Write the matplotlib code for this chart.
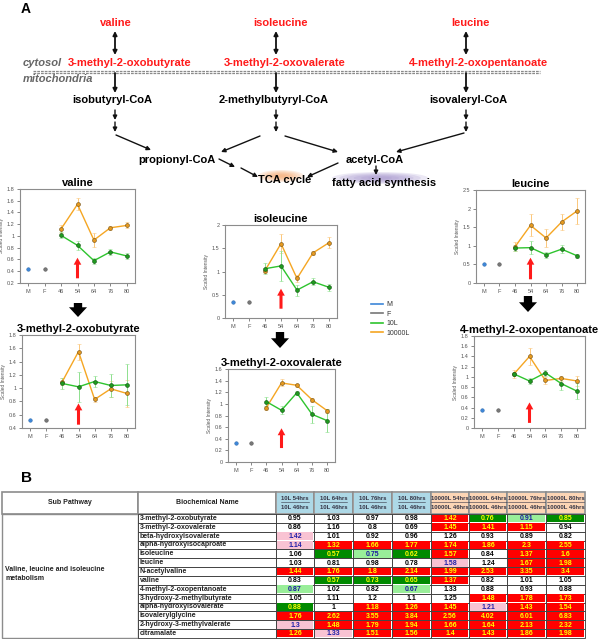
import numpy as np
import matplotlib.pyplot as plt
from matplotlib.patches import Rectangle, Ellipse
from matplotlib.lines import Line2D

plt.rcParams['font.family'] = ['Liberation Sans', 'DejaVu Sans']

W, H = 600, 639

# ---- panel A: scaled intensity, controls M/F then 10L / 10000L at 46..80 hrs
x_labels = ['M', 'F', '46', '54', '64', '76', '80']
groups = ['M', 'F', '10L', '10000L']

valine_mf = [0.44, 0.44]
valine_10L = [1.01, 0.84, 0.58, 0.73, 0.66]
valine_10L_err = [0.05, 0.08, 0.05, 0.05, 0.05]
valine_10000L = [1.12, 1.54, 0.93, 1.14, 1.18]
valine_10000L_err = [0.07, 0.10, 0.12, 0.03, 0.05]

isoleucine_mf = [0.35, 0.35]
isoleucine_10L = [1.06, 1.12, 0.60, 0.78, 0.66]
isoleucine_10L_err = [0.12, 0.32, 0.12, 0.08, 0.08]
isoleucine_10000L = [1.02, 1.60, 0.85, 1.40, 1.62]
isoleucine_10000L_err = [0.05, 0.20, 0.08, 0.05, 0.12]

leucine_mf = [0.50, 0.50]
leucine_10L = [0.94, 0.95, 0.76, 0.91, 0.73]
leucine_10L_err = [0.08, 0.17, 0.08, 0.10, 0.06]
leucine_10000L = [0.97, 1.55, 1.21, 1.64, 1.94]
leucine_10000L_err = [0.12, 0.30, 0.25, 0.22, 0.35]

# 3-methyl-2-oxobutyrate
mob_mf = [0.52, 0.52]
mob_10L = [1.07, 1.02, 1.10, 1.04, 1.05]
mob_10L_err = [0.08, 0.23, 0.08, 0.17, 0.31]
mob_10000L = [1.10, 1.55, 0.83, 0.99, 0.92]
mob_10000L_err = [0.05, 0.12, 0.04, 0.12, 0.20]

# 3-methyl-2-oxovalerate
mov_mf = [0.33, 0.33]
mov_10L = [1.04, 0.89, 1.19, 0.82, 0.71]
mov_10L_err = [0.07, 0.07, 0.04, 0.15, 0.20]
mov_10000L = [0.93, 1.36, 1.32, 1.07, 0.88]
mov_10000L_err = [0.03, 0.06, 0.03, 0.03, 0.03]

# 4-methyl-2-oxopentanoate
mop_mf = [0.36, 0.36]
mop_10L = [1.06, 0.92, 1.08, 0.87, 0.72]
mop_10L_err = [0.04, 0.05, 0.06, 0.12, 0.16]
mop_10000L = [1.05, 1.40, 0.93, 0.97, 0.92]
mop_10000L_err = [0.08, 0.17, 0.06, 0.05, 0.10]

# ---- panel B: fold-change table
col_top = ['10L 54hrs', '10L 64hrs', '10L 76hrs', '10L 80hrs',
           '10000L 54hrs', '10000L 64hrs', '10000L 76hrs', '10000L 80hrs']
col_base = ['10L 46hrs'] * 4 + ['10000L 46hrs'] * 4
sub_pathway = 'Valine, leucine and isoleucine\nmetabolism'
biochemicals = ['3-methyl-2-oxobutyrate', '3-methyl-2-oxovalerate', 'beta-hydroxyisovalerate',
                'alpha-hydroxyisocaproate', 'isoleucine', 'leucine', 'N-acetylvaline', 'valine',
                '4-methyl-2-oxopentanoate', '3-hydroxy-2-methylbutyrate', 'alpha-hydroxyisovalerate',
                'isovalerylglycine', '2-hydroxy-3-methylvalerate', 'citramalate']
ratios = [
    [0.95, 1.03, 0.97, 0.98, 1.42, 0.76, 0.91, 0.85],
    [0.86, 1.16, 0.80, 0.69, 1.45, 1.41, 1.15, 0.94],
    [1.42, 1.01, 0.92, 0.96, 1.26, 0.93, 0.89, 0.82],
    [1.14, 1.32, 1.66, 1.77, 1.74, 1.86, 2.30, 2.55],
    [1.06, 0.57, 0.75, 0.62, 1.57, 0.84, 1.37, 1.60],
    [1.03, 0.81, 0.98, 0.78, 1.58, 1.24, 1.67, 1.98],
    [1.44, 1.76, 1.80, 2.14, 1.99, 2.53, 3.35, 3.40],
    [0.83, 0.57, 0.73, 0.65, 1.37, 0.82, 1.01, 1.05],
    [0.87, 1.02, 0.82, 0.67, 1.33, 0.88, 0.93, 0.88],
    [1.05, 1.11, 1.20, 1.10, 1.25, 1.48, 1.78, 1.73],
    [0.88, 1.00, 1.18, 1.26, 1.45, 1.21, 1.43, 1.54],
    [1.76, 2.62, 3.55, 3.84, 2.56, 4.02, 6.01, 6.83],
    [1.30, 1.48, 1.79, 1.94, 1.66, 1.64, 2.13, 2.32],
    [1.26, 1.33, 1.51, 1.56, 1.40, 1.43, 1.86, 1.98],
]
# R: up p<=0.05, P: up 0.05<p<0.10, G: down p<=0.05, L: down 0.05<p<0.10
signif = [
    ['', '', '', '', 'R', 'G', 'L', 'G'],
    ['', '', '', '', 'R', 'R', 'R', ''],
    ['P', '', '', '', '', '', '', ''],
    ['P', 'R', 'R', 'R', 'R', 'R', 'R', 'R'],
    ['', 'G', 'L', 'G', 'R', '', 'R', 'R'],
    ['', '', '', '', 'P', '', 'R', 'R'],
    ['R', 'R', 'R', 'R', 'R', 'R', 'R', 'R'],
    ['', 'G', 'G', 'G', 'R', '', '', ''],
    ['L', '', '', 'L', '', '', '', ''],
    ['', '', '', '', '', 'R', 'R', 'R'],
    ['G', '', 'R', 'R', 'R', 'P', 'R', 'R'],
    ['R', 'R', 'R', 'R', 'R', 'R', 'R', 'R'],
    ['P', 'R', 'R', 'R', 'R', 'R', 'R', 'R'],
    ['R', 'P', 'R', 'R', 'R', 'R', 'R', 'R'],
]

cell_fill = {'R': '#ff0000', 'P': '#f9c3d3', 'G': '#008a00', 'L': '#99ee99', '': 'white'}
cell_text = {'R': '#ffff00', 'P': '#2222aa', 'G': '#ffff00', 'L': '#1a1aa0', '': 'black'}
group_colors = {'M': '#3d86d8', 'F': '#777777', '10L': '#2ec42e', '10000L': '#f5a623'}

fig = plt.figure(figsize=(6, 6.39), dpi=100)
ax0 = fig.add_axes([0, 0, 1, 1])
ax0.set_xlim(0, W)
ax0.set_ylim(H, 0)
ax0.axis('off')


def px_axes(left, top, right, bottom):
    return fig.add_axes([left / W, 1 - bottom / H, (right - left) / W, (bottom - top) / H])


def arrow(p0, p1, style='-|>', lw=1.0, ms=6):
    ax0.annotate('', xy=p1, xytext=p0,
                 arrowprops=dict(arrowstyle=style, color='#111111', lw=lw,
                                 mutation_scale=ms, shrinkA=0, shrinkB=0))


# ---------------- pathway diagram ----------------
ax0.text(21, 9, 'A', fontsize=10, fontweight='bold', va='center')
red = '#ff1a1a'
amino = [('valine', 116), ('isoleucine', 280), ('leucine', 470)]
keto = [('3-methyl-2-oxobutyrate', 130), ('3-methyl-2-oxovalerate', 285),
        ('4-methyl-2-oxopentanoate', 478)]
coa = [('isobutyryl-CoA', 112), ('2-methylbutyryl-CoA', 274), ('isovaleryl-CoA', 468)]
stems = [115, 276, 466]
for (name, x) in amino:
    ax0.text(x, 23, name, color=red, fontsize=8, fontweight='bold', ha='center', va='center')
for (name, x) in keto:
    ax0.text(x, 63, name, color=red, fontsize=8, fontweight='bold', ha='center', va='center')
for (name, x) in coa:
    ax0.text(x, 100, name, color='black', fontsize=8, fontweight='bold', ha='center', va='center')
for x in stems:
    arrow((x, 31), (x, 55), style='<|-|>', lw=1.3, ms=6)
    arrow((x, 73), (x, 93), lw=1.3)
    arrow((x, 110), (x, 120))
    arrow((x, 122), (x, 132))

ax0.text(23, 63, 'cytosol', color='#666666', fontsize=8, fontstyle='italic',
         fontweight='bold', va='center')
ax0.text(23, 79, 'mitochondria', color='#666666', fontsize=8, fontstyle='italic',
         fontweight='bold', va='center')
for yy in (70.5, 73):
    ax0.plot([33, 540], [yy, yy], color='#8a8a8a', lw=0.9, dashes=(2.2, 0.8))

arrow((116, 135), (151, 150))
arrow((260, 136), (221, 152))
arrow((285, 136), (338, 152))
arrow((464, 133), (396, 152))
ax0.text(177, 160, 'propionyl-CoA', fontsize=8, fontweight='bold', ha='center', va='center')
ax0.text(375, 160, 'acetyl-CoA', fontsize=8, fontweight='bold', ha='center', va='center')
arrow((219, 159), (235, 167))
arrow((241, 168), (258, 177))
arrow((338, 163), (307, 177))
arrow((376, 166), (376, 175))

for k in range(6):
    s = 1 - k * 0.15
    ax0.add_patch(Ellipse((281, 176), 46 * s, 12 * s, color='#f7a060', alpha=0.18, lw=0))
    ax0.add_patch(Ellipse((380, 178), 96 * s, 12 * s, color='#9a88c8', alpha=0.18, lw=0))
ax0.text(285, 180, 'TCA cycle', fontsize=8, fontweight='bold', ha='center', va='center')
ax0.text(384, 183, 'fatty acid synthesis', fontsize=8, fontweight='bold', ha='center', va='center')

# ---------------- line plots ----------------
panels = [
    ('valine', valine_mf, valine_10L, valine_10L_err, valine_10000L, valine_10000L_err,
     (20, 189, 135, 283), (0.2, 1.8), np.arange(0.2, 1.81, 0.2), (0.28, 0.63)),
    ('isoleucine', isoleucine_mf, isoleucine_10L, isoleucine_10L_err, isoleucine_10000L,
     isoleucine_10000L_err, (225, 225, 337, 318), (0, 2), np.arange(0, 2.01, 0.5), (0.2, 0.63)),
    ('leucine', leucine_mf, leucine_10L, leucine_10L_err, leucine_10000L, leucine_10000L_err,
     (476, 190, 585, 283), (0, 2.5), np.arange(0, 2.51, 0.5), (0.1, 0.68)),
    ('3-methyl-2-oxobutyrate', mob_mf, mob_10L, mob_10L_err, mob_10000L, mob_10000L_err,
     (22, 335, 135, 428), (0.4, 1.8), np.arange(0.4, 1.81, 0.2), (0.45, 0.77)),
    ('3-methyl-2-oxovalerate', mov_mf, mov_10L, mov_10L_err, mov_10000L, mov_10000L_err,
     (228, 369, 335, 462), (0, 1.6), np.arange(0, 1.61, 0.2), (0.24, 0.58)),
    ('4-methyl-2-oxopentanoate', mop_mf, mop_10L, mop_10L_err, mop_10000L, mop_10000L_err,
     (474, 336, 585, 428), (0, 1.8), np.arange(0, 1.81, 0.2), (0.1, 0.5)),
]

xs = np.arange(len(x_labels))
for (title, mf, g, ge, o, oe, box, ylim, yticks, red_span) in panels:
    ax = px_axes(*box)
    ax.plot(xs[0], mf[0], 'o', color=group_colors['M'], ms=2.6, mec='#2060a0', mew=0.3)
    ax.plot(xs[1], mf[1], 'o', color=group_colors['F'], ms=2.6, mec='#444444', mew=0.3)
    ax.errorbar(xs[2:], o, yerr=oe, color=group_colors['10000L'], ecolor='#fbc77a', lw=1.0,
                elinewidth=0.7, capsize=1.5, capthick=0.6, marker='o', ms=2.8,
                mfc='#e69a20', mec='#6b4a10', mew=0.4)
    ax.errorbar(xs[2:], g, yerr=ge, color=group_colors['10L'], ecolor='#8ee08e', lw=1.0,
                elinewidth=0.7, capsize=1.5, capthick=0.6, marker='o', ms=2.8,
                mfc='#1f9a1f', mec='#0d4d0d', mew=0.4)
    ax.annotate('', xy=(3, red_span[1]), xytext=(3, red_span[0]),
                arrowprops=dict(facecolor='#ff1a1a', edgecolor='none', width=2.2,
                                headwidth=5.5, headlength=5))
    ax.set_xlim(-0.5, 6.5)
    ax.set_ylim(*ylim)
    ax.set_xticks(xs)
    ax.set_xticklabels(x_labels)
    ax.set_yticks(yticks)
    ax.set_yticklabels([f'{v:g}' for v in yticks])
    ax.tick_params(labelsize=4, colors='#555555', length=2, width=0.5, pad=2)
    for sp in ax.spines.values():
        sp.set_color('#8c8c8c')
        sp.set_linewidth(0.8)
    ax.set_ylabel('Scaled Intensity', fontsize=3.5, color='#555555', labelpad=2)
    ax.set_title(title, fontsize=8, fontweight='bold', pad=2.5)

handles = [Line2D([], [], color=group_colors[gname], lw=1.2) for gname in groups]
fig.legend(handles, groups, loc='upper left', bbox_to_anchor=(368 / W, 1 - 298 / H),
           frameon=False, fontsize=5, handlelength=1.6, labelspacing=0.35,
           handletextpad=0.5, borderpad=0, labelcolor='#333333')

# big black arrows between the amino acid and keto acid plots
for (x, y0, y1) in [(78, 303, 317), (280, 332, 348), (528, 296, 312)]:
    ax0.annotate('', xy=(x, y1), xytext=(x, y0),
                 arrowprops=dict(facecolor='black', edgecolor='none', width=6,
                                 headwidth=13, headlength=7))

# ---------------- table ----------------
ax0.text(21, 478, 'B', fontsize=11, fontweight='bold', va='center')
edges = [2, 138, 276, 314, 353, 392, 431, 469, 507, 546, 585]
top, head_bot, bottom = 492, 514, 638
row_h = (bottom - head_bot) / len(biochemicals)
grey = '#8c8c8c'

renderer = fig.canvas.get_renderer()
inv = ax0.transData.inverted()

# header
ax0.add_patch(Rectangle((edges[0], top), edges[1] - edges[0], head_bot - top,
                        fc='white', ec=grey, lw=1.2))
ax0.add_patch(Rectangle((edges[1], top), edges[2] - edges[1], head_bot - top,
                        fc='white', ec=grey, lw=1.2))
ax0.text((edges[0] + edges[1]) / 2, (top + head_bot) / 2, 'Sub Pathway', fontsize=5,
         fontweight='bold', ha='center', va='center', color='#222222')
ax0.text((edges[1] + edges[2]) / 2, (top + head_bot) / 2, 'Biochemical Name', fontsize=5,
         fontweight='bold', ha='center', va='center', color='#222222')
for j, (t1, t2) in enumerate(zip(col_top, col_base)):
    x0, x1 = edges[j + 2], edges[j + 3]
    fc = '#add8e6' if j < 4 else '#fcd5b5'
    ax0.add_patch(Rectangle((x0, top), x1 - x0, head_bot - top, fc='white', ec=grey, lw=1.2))
    ax0.add_patch(Rectangle((x0 + 0.8, top + 0.8), x1 - x0 - 1.6, head_bot - top - 1.6,
                            fc=fc, ec='none'))
    xc = (x0 + x1) / 2
    t = ax0.text(xc, 499, t1, fontsize=4.2, fontweight='bold', ha='center', va='center',
                 color='#333344')
    ax0.text(xc, 507.5, t2, fontsize=4.2, fontweight='bold', ha='center', va='center',
             color='#333344')
    bb = t.get_window_extent(renderer)
    (ua, _), (ub, _) = inv.transform([(bb.x0, 0), (bb.x1, 0)])
    ax0.plot([ua, ub], [502.3, 502.3], color='#333344', lw=0.4)

# body
ax0.add_patch(Rectangle((edges[0], head_bot), edges[1] - edges[0], bottom - head_bot,
                        fc='white', ec=grey, lw=1.0))
ax0.text(5, head_bot + 7 * row_h - 2, sub_pathway, fontsize=5, fontweight='bold',
         ha='left', va='center', linespacing=1.6, color='#222222')
for i, name in enumerate(biochemicals):
    y0 = head_bot + i * row_h
    ax0.add_patch(Rectangle((edges[1], y0), edges[2] - edges[1], row_h, fc='white',
                            ec='#333333', lw=0.6))
    ax0.text(edges[1] + 2, y0 + row_h / 2, name, fontsize=5, fontweight='bold',
             ha='left', va='center', color='#222222')
    for j in range(len(col_top)):
        x0, x1 = edges[j + 2], edges[j + 3]
        code = signif[i][j]
        ax0.add_patch(Rectangle((x0, y0), x1 - x0, row_h, fc='white', ec='#333333', lw=0.6))
        if code:
            ax0.add_patch(Rectangle((x0 + 1, y0 + 0.6), x1 - x0 - 2, row_h - 1.2,
                                    fc=cell_fill[code], ec='none'))
        ax0.text((x0 + x1) / 2, y0 + row_h / 2 + 0.3, f'{ratios[i][j]:g}', fontsize=5,
                 fontweight='bold', ha='center', va='center', color=cell_text[code])

fig.savefig('out.png', dpi=100)
